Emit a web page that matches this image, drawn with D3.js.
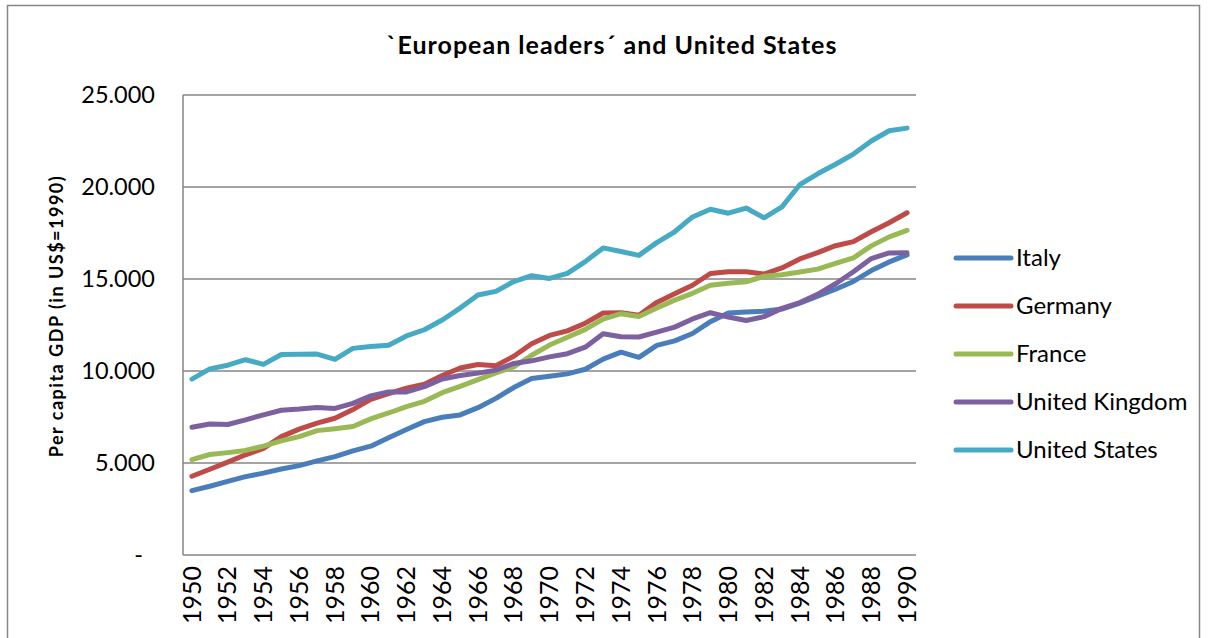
<!DOCTYPE html>
<html>
<head>
<meta charset="utf-8">
<script src="https://cdn.jsdelivr.net/npm/d3@7"></script>
<style>
  body { margin: 0; background: #fff; }
  svg { display: block; font-family: Lato, "Open Sans", sans-serif; }
</style>
</head>
<body>
<div id="chart"></div>
<script>
// years on the category axis
var years = d3.range(1950, 1991);

// per capita GDP, 1990 international dollars
var italy = [3502, 3738, 3997, 4260, 4449, 4676, 4859, 5116, 5349, 5661, 5916, 6373, 6819, 7249, 7487, 7614, 8007, 8513, 9102, 9597, 9719, 9843, 10097, 10643, 11022, 10742, 11391, 11636, 12037, 12680, 13149, 13200, 13247, 13365, 13690, 14069, 14442, 14866, 15457, 15929, 16313];
var germany = [4281, 4660, 5048, 5447, 5797, 6431, 6839, 7170, 7432, 7905, 8463, 8775, 9062, 9281, 9757, 10165, 10349, 10291, 10800, 11481, 11933, 12182, 12598, 13152, 13168, 13028, 13729, 14200, 14660, 15300, 15390, 15390, 15270, 15600, 16090, 16430, 16810, 17030, 17570, 18060, 18600];
var france = [5186, 5461, 5564, 5684, 5915, 6199, 6430, 6760, 6863, 6980, 7398, 7718, 8063, 8350, 8821, 9165, 9535, 9893, 10226, 10857, 11410, 11835, 12263, 12824, 13114, 12957, 13426, 13853, 14222, 14659, 14766, 14851, 15149, 15235, 15382, 15538, 15849, 16151, 16800, 17290, 17647];
var uk = [6939, 7123, 7091, 7346, 7619, 7868, 7929, 8017, 7966, 8240, 8645, 8857, 8865, 9149, 9568, 9752, 9885, 10049, 10410, 10552, 10767, 10941, 11294, 12025, 11859, 11847, 12115, 12384, 12828, 13167, 12931, 12747, 12955, 13404, 13720, 14165, 14742, 15393, 16110, 16414, 16430];
var usa = [9561, 10116, 10316, 10613, 10359, 10897, 10914, 10920, 10631, 11230, 11328, 11402, 11905, 12242, 12773, 13419, 14134, 14330, 14863, 15179, 15030, 15304, 15944, 16689, 16491, 16284, 16975, 17567, 18373, 18789, 18577, 18856, 18325, 18920, 20123, 20717, 21236, 21788, 22499, 23059, 23201];

var seriesNames = ["Italy", "Germany", "France", "United Kingdom", "United States"];
var seriesValues = [italy, germany, france, uk, usa];
var colors = ["#4a7ebb", "#be4b48", "#98b954", "#7d60a0", "#46aac5"];

var yTicks = [0, 5000, 10000, 15000, 20000, 25000];
var yTickLabels = ["-", "5.000", "10.000", "15.000", "20.000", "25.000"];

var width = 1208, height = 638;
var plotLeft = 183, plotRight = 916, plotTop = 95, plotBottom = 555;

var svg = d3.select("#chart").append("svg")
    .attr("width", width)
    .attr("height", height);

// outer chart frame
svg.append("rect")
    .attr("x", 7.5).attr("y", 5.5)
    .attr("width", 1192).attr("height", 700)
    .attr("fill", "none")
    .attr("stroke", "#868686")
    .attr("stroke-width", 1.5);

var x = d3.scaleBand().domain(years).range([plotLeft, plotRight]);
var y = d3.scaleLinear().domain([0, 25000]).range([plotBottom, plotTop]);

// gridlines
svg.append("g")
    .selectAll("line")
    .data(yTicks.slice(1))
    .enter().append("line")
    .attr("x1", plotLeft).attr("x2", plotRight)
    .attr("y1", function(d) { return y(d); })
    .attr("y2", function(d) { return y(d); })
    .attr("stroke", "#868686")
    .attr("stroke-width", 1.5);

// axis lines
svg.append("line")
    .attr("x1", plotLeft).attr("x2", plotLeft)
    .attr("y1", plotTop).attr("y2", plotBottom)
    .attr("stroke", "#868686").attr("stroke-width", 1.5);
svg.append("line")
    .attr("x1", plotLeft).attr("x2", plotRight)
    .attr("y1", plotBottom).attr("y2", plotBottom)
    .attr("stroke", "#868686").attr("stroke-width", 1.5);

// y tick labels
svg.append("g")
    .selectAll("text")
    .data(yTicks)
    .enter().append("text")
    .attr("x", function(d, i) { return i === 0 ? 143 : 155; })
    .attr("y", function(d) { return y(d); })
    .attr("dy", "0.35em")
    .attr("text-anchor", "end")
    .style("font-size", "23.5px")
    .text(function(d, i) { return yTickLabels[i]; });

// x tick labels, every second year
svg.append("g")
    .selectAll("text")
    .data(years.filter(function(d) { return d % 2 === 0; }))
    .enter().append("text")
    .attr("transform", function(d) {
        return "translate(" + (x(d) + x.bandwidth() / 2) + "," + 566 + ") rotate(-90)";
    })
    .attr("dy", "0.35em")
    .attr("text-anchor", "end")
    .style("font-size", "25px")
    .text(function(d) { return d; });

// lines
var line = d3.line()
    .x(function(d, i) { return x(years[i]) + x.bandwidth() / 2; })
    .y(function(d) { return y(d); });

svg.append("g")
    .selectAll("path")
    .data(seriesValues)
    .enter().append("path")
    .attr("d", line)
    .attr("fill", "none")
    .attr("stroke", function(d, i) { return colors[i]; })
    .attr("stroke-width", 5)
    .attr("stroke-linejoin", "round")
    .attr("stroke-linecap", "round");

// legend
var legend = svg.append("g")
    .selectAll("g")
    .data(seriesNames)
    .enter().append("g")
    .attr("transform", function(d, i) { return "translate(956," + (258 + i * 48) + ")"; });

legend.append("line")
    .attr("x1", 0).attr("x2", 55)
    .attr("stroke", function(d, i) { return colors[i]; })
    .attr("stroke-width", 5)
    .attr("stroke-linecap", "round");

legend.append("text")
    .attr("x", 60)
    .attr("dy", "0.35em")
    .style("font-size", "24px")
    .text(function(d) { return d; });

// title
svg.append("text")
    .attr("x", 612).attr("y", 54)
    .attr("text-anchor", "middle")
    .style("font-size", "25px")
    .style("font-weight", "bold")
    .style("letter-spacing", "1px")
    .text("`European leaders´ and United States");

// y axis title
svg.append("text")
    .attr("transform", "translate(57," + 316 + ") rotate(-90)")
    .attr("text-anchor", "middle")
    .attr("dy", "0.35em")
    .style("font-size", "18px")
    .style("font-weight", "bold")
    .style("letter-spacing", "1.5px")
    .text("Per capita GDP (in US$=1990)");
</script>
</body>
</html>
